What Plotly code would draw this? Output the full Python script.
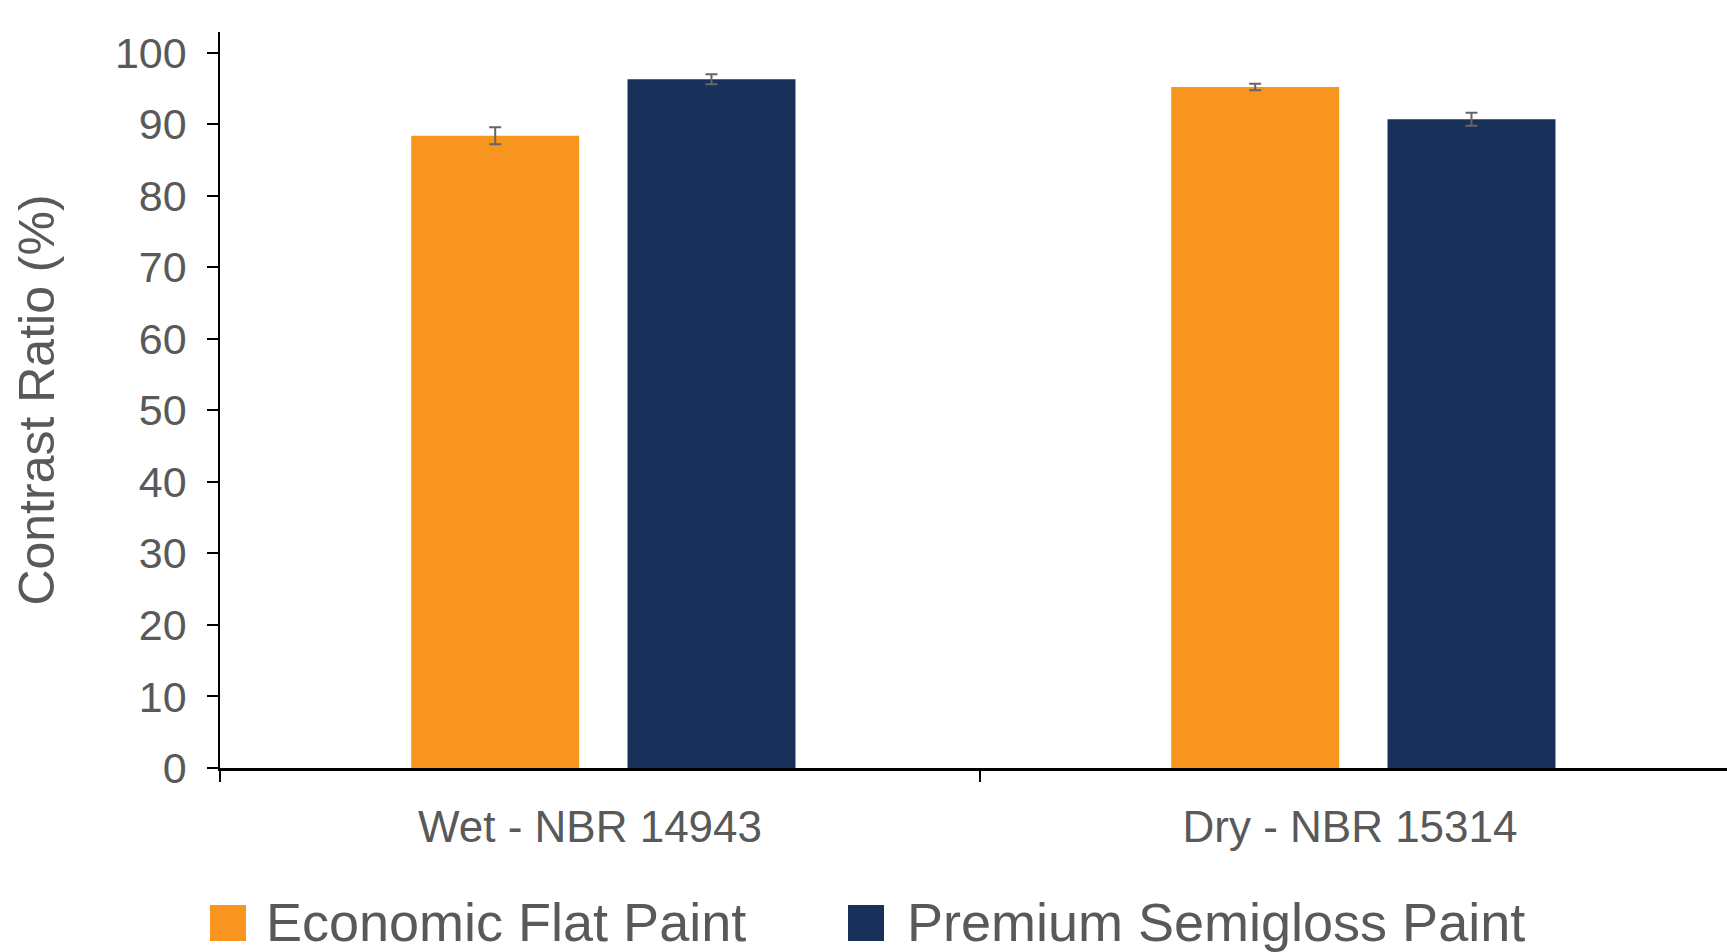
import plotly.graph_objects as go

categories = ["Wet - NBR 14943", "Dry - NBR 15314"]
series_names = ["Economic Flat Paint", "Premium Semigloss Paint"]
economic = [88.4, 95.2]
economic_err = [1.2, 0.45]
premium = [96.3, 90.7]
premium_err = [0.7, 0.9]
y_ticks = list(range(0, 101, 10))

ORANGE = "#F7951F"
NAVY = "#18305A"
GRAY = "#595959"
FONT = "Liberation Sans, Arial, sans-serif"

W, H = 1727, 952
L, R, T, B = 220, 0, 32, 184
pw, ph = W - L - R, H - T - B


def px(x):
    return (x - L) / pw


def py(y):
    return (H - B - y) / ph


fig = go.Figure()
fig.add_trace(go.Bar(
    x=categories, y=economic, name=series_names[0],
    marker=dict(color=ORANGE, line=dict(width=0)),
    width=0.221, offset=-0.2484,
    error_y=dict(type="data", array=economic_err, visible=True,
                 color="#666666", thickness=2, width=6),
    showlegend=False,
))
fig.add_trace(go.Bar(
    x=categories, y=premium, name=series_names[1],
    marker=dict(color=NAVY, line=dict(width=0)),
    width=0.221, offset=0.0362,
    error_y=dict(type="data", array=premium_err, visible=True,
                 color="#666666", thickness=2, width=6),
    showlegend=False,
))

# legend drawn as swatches + text
shapes = []
annotations = []
legend_items = [(210, 264, ORANGE, series_names[0]), (848, 905, NAVY, series_names[1])]
for sx, tx, col, name in legend_items:
    shapes.append(dict(type="rect", xref="paper", yref="paper",
                       x0=px(sx), x1=px(sx + 36), y0=py(941), y1=py(905),
                       fillcolor=col, line=dict(width=0)))
    annotations.append(dict(xref="paper", yref="paper", x=px(tx), y=py(922),
                            xanchor="left", yanchor="middle", showarrow=False,
                            text=name, font=dict(family=FONT, size=54, color=GRAY)))

fig.update_layout(
    width=W, height=H,
    margin=dict(l=L, r=R, t=T, b=B, pad=0),
    barmode="overlay",
    plot_bgcolor="white", paper_bgcolor="white",
    font=dict(family=FONT, color=GRAY),
    shapes=shapes, annotations=annotations,
    showlegend=False,
)
fig.update_xaxes(
    type="category", categoryorder="array", categoryarray=categories,
    range=[-0.5, -0.5 + pw / 760],
    tickson="boundaries", ticks="outside", ticklen=11, tickwidth=1.5, tickcolor="black",
    showline=True, linecolor="black", linewidth=2.5,
    showgrid=False, zeroline=False,
    tickfont=dict(family=FONT, size=44, color=GRAY),
    ticklabelstandoff=18, ticklabelshift=-10,
)
fig.update_yaxes(
    range=[0, 102.9], tickvals=y_ticks,
    ticks="outside", ticklen=11, tickwidth=1.5, tickcolor="black",
    showline=True, linecolor="black", linewidth=1.5,
    showgrid=False, zeroline=False,
    tickfont=dict(family=FONT, size=43, color=GRAY),
    ticklabelstandoff=12,
    title=dict(text="Contrast Ratio (%)", font=dict(family=FONT, size=50, color=GRAY), standoff=44),
)

fig.write_html("out.html", config={"displayModeBar": False},
               post_script="document.body.style.margin='0';document.body.style.overflow='hidden';")
